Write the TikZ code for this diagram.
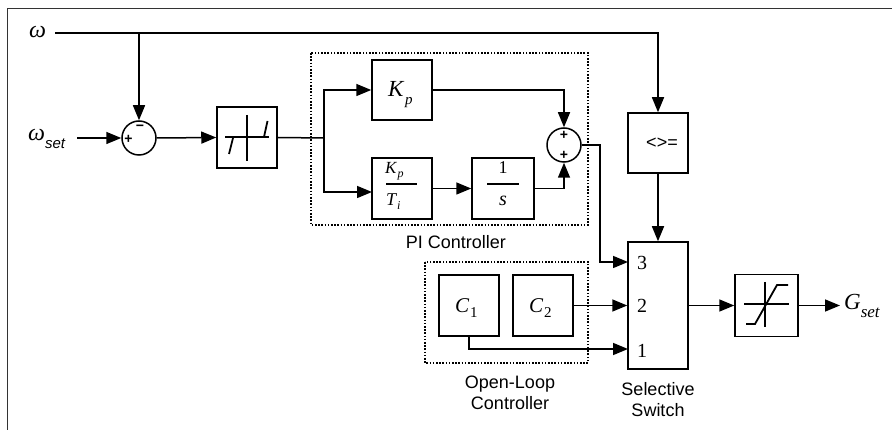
\documentclass[tikz,border=0pt]{standalone}
\usepackage{fontspec}
\setmainfont{Liberation Serif}
\setsansfont{Liberation Sans}
\usetikzlibrary{arrows.meta,calc}
\tikzset{
  wire/.style={line width=1.5pt,black},
  arr/.style={wire,-{Triangle[length=15pt,width=12pt]}},
  blk/.style={draw,line width=1.5pt,rectangle,inner sep=0pt},
  sumc/.style={draw,line width=1.5pt,circle,minimum size=34pt,inner sep=0pt},
  grp/.style={draw,line width=1.3pt,dash pattern=on 1.6pt off 1.6pt},
  lbl/.style={font=\sffamily\fontsize{18}{21}\selectfont,align=center,inner sep=0pt},
  sgn/.style={font=\sffamily\bfseries\fontsize{14}{14}\selectfont,inner sep=0pt},
  txt/.style={inner sep=0pt,anchor=base west},
  icon/.style={line width=1.8pt},
  fracline/.style={line width=1.3pt}
}
\begin{document}
\begin{tikzpicture}[x=1pt,y=-1pt]
\useasboundingbox (0,0) rectangle (892,430);
% frame
\draw[line width=1.6pt,black!80] (7.5,430) -- (7.5,8.5) -- (892,8.5);

% input labels
\node[txt] (w) at (29,37.5) {\fontsize{24}{24}\selectfont\itshape ω};
\node[txt] (wset) at (28,141) {{\fontsize{24}{24}\selectfont\itshape ω}\raisebox{-7.5pt}{\sffamily\itshape\fontsize{15}{15}\selectfont set}};

% sum 1
\node[sumc] (s1) at (139,138) {};
\node[sgn] at (140,127.5) {−};
\node[sgn] at (128.5,139) {+};

% dead zone
\node[blk,minimum width=60pt,minimum height=61pt] (dz) at (247,137.5) {};
\draw[icon] (225,137) -- (269,137);
\draw[icon] (247,115) -- (247,161);
\draw[icon] (229,154) -- (233,138);
\draw[icon] (264,137) -- (267.5,121);

\coordinate (br) at (324,138);

% PI controller
\draw[grp] (311,53) rectangle (588,225);
\node[lbl] (pil) at (456,242) {PI Controller};
\node[blk,minimum width=60pt,minimum height=60pt] (kp) at (402,90) {};
\node[txt] at (388,96.5) {{\fontsize{23}{23}\selectfont\itshape K}\hspace{1.5pt}\raisebox{-8pt}{\fontsize{15}{15}\selectfont\itshape p}};
\node[blk,minimum width=60pt,minimum height=61pt] (kt) at (402,188.5) {};
\node[txt] at (385,173.5) {{\fontsize{17}{17}\selectfont\itshape K}\hspace{1pt}\raisebox{-4pt}{\fontsize{12}{12}\selectfont\itshape p}};
\draw[fracline] (386,184) -- (417,184);
\node[txt] at (386,205.5) {{\fontsize{18}{18}\selectfont\itshape T}\hspace{1pt}\raisebox{-4pt}{\fontsize{12}{12}\selectfont\itshape i}};
\node[blk,minimum width=62pt,minimum height=61pt] (is) at (503,188.5) {};
\node[txt,anchor=base] at (503,173.5) {\fontsize{18}{18}\selectfont 1};
\draw[fracline] (487,184) -- (519,184);
\node[txt,anchor=base] at (503,205.5) {\fontsize{20}{20}\selectfont\itshape s};
\node[sumc] (s2) at (564,145) {};
\node[sgn] at (564,135.5) {+};
\node[sgn] at (564,155) {+};

% compare
\node[blk,minimum width=60pt,minimum height=60pt] (cmp) at (658,143) {};
\node[inner sep=0pt,font=\sffamily\fontsize{18}{18}\selectfont] at (662,143.5) {<>=};

% switch
\node[blk,minimum width=60pt,minimum height=127pt] (sw) at (658,305.5) {};
\node[txt,anchor=base] at (642,270) {\fontsize{20}{20}\selectfont 3};
\node[txt,anchor=base] at (642,313) {\fontsize{20}{20}\selectfont 2};
\node[txt,anchor=base] at (642,358) {\fontsize{20}{20}\selectfont 1};
\node[lbl] (swl) at (658,400) {Selective\\Switch};

% saturation
\node[blk,minimum width=63pt,minimum height=62pt] (sat) at (766.5,305.5) {};
\draw[icon] (744,304) -- (789,304);
\draw[icon] (765,282) -- (765,327);
\draw[icon] (746,324) -- (755,324) -- (777,285) -- (788,285);
\node[txt] (g) at (844,310) {{\fontsize{23}{23}\selectfont\itshape G}\raisebox{-8pt}{\itshape\fontsize{17}{17}\selectfont set}};

% open loop
\draw[grp] (425,262) rectangle (588,363);
\node[lbl] (oll) at (510,393) {Open-Loop\\Controller};
\node[blk,minimum width=60pt,minimum height=61pt] (c1) at (469,305.5) {};
\node[txt] at (455,312.5) {{\fontsize{21}{21}\selectfont\itshape C}\hspace{1pt}\raisebox{-5pt}{\fontsize{15}{15}\selectfont 1}};
\node[blk,minimum width=60pt,minimum height=61pt] (c2) at (543,305.5) {};
\node[txt] at (529,312.5) {{\fontsize{21}{21}\selectfont\itshape C}\hspace{1pt}\raisebox{-5pt}{\fontsize{15}{15}\selectfont 2}};

% wires
\coordinate (wtop) at (658,33);
\coordinate (wbr) at (139,33);
\coordinate (wst) at (55,33);
\coordinate (wsetst) at (77,138);
\coordinate (gin) at (840,305.5);
\draw[arr] (wst) -- (wtop) -- (cmp.north);
\draw[arr] (wbr) -- (s1.north);
\draw[arr] (wsetst) -- (s1.west);
\draw[arr] (s1.east) -- (dz.west);
\draw[wire] (dz.east) -- (br);
\draw[arr] (br) |- (kp.west);
\coordinate (ktin) at (372,192);
\draw[arr] (br) |- (ktin);
\draw[arr] (kt.east) -- (is.west);
\draw[arr] (kp.east) -| (s2.north);
\draw[arr] (is.east) -| (s2.south);
\coordinate (in3) at (628,262);
\draw[arr] (s2.east) -- (600,145) |- (in3);
\draw[arr] (cmp.south) -- (sw.north);
\draw[arr] (c2.east) -- (c2.east -| sw.west);
\coordinate (in1) at (628,349);
\draw[arr] (c1.south) |- (in1);
\draw[arr] (sw.east |- sat.west) -- (sat.west);
\draw[arr] (sat.east) -- (gin);
\end{tikzpicture}
\end{document}
